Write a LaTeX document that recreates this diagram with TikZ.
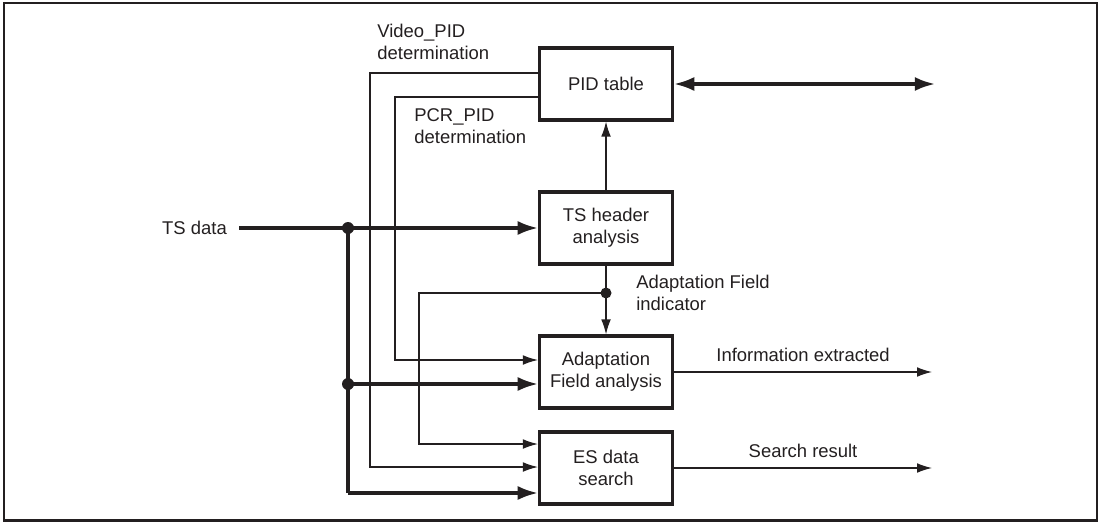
\documentclass[tikz,border=0pt]{standalone}
\usepackage{fontspec}
\setmainfont{Liberation Sans}
\usetikzlibrary{arrows.meta,positioning}
\definecolor{ink}{HTML}{231F20}

\begin{document}
\begin{tikzpicture}[x=1cm,y=1cm,font=\fontsize{10.5}{12.5}\selectfont,
  every node/.style={text=ink},
  blk/.style={draw=ink,line width=1.8pt,minimum width=2.66cm,minimum height=1.44cm,align=center,inner sep=0pt},
  wire/.style={draw=ink,line width=0.7pt},
  wirearr/.style={wire,-{Latex[length=8.5pt,width=5.5pt]}},
  bus/.style={draw=ink,line width=1.8pt},
  busarr/.style={bus,-{Latex[length=11.5pt,width=8pt]}},
  lbl/.style={align=left,anchor=west,inner sep=0pt}]
 \useasboundingbox (0,0) rectangle (22,10.44);
 \draw[ink,line width=1.2pt] (0.08,0.03) rectangle (21.94,10.38);

 \node[blk] (pid) at (12.12,8.76) {PID table};
 \node[blk] (tsh) at (12.12,5.88) {TS header\\analysis};
 \node[blk] (afa) at (12.12,3.00) {Adaptation\\Field analysis};
 \node[blk] (esd) at (12.12,1.08) {ES data\\search};
 \node[inner sep=0pt] (tsin) at (3.89,5.88) {TS data};

 \node[lbl] (vidlbl) at (7.54,9.60) {Video\_PID\\determination};
 \node[lbl] (pcrlbl) at (8.28,7.92) {PCR\_PID\\determination};
 \node[lbl] (aflbl) at (12.72,4.58) {Adaptation Field\\indicator};

 % branch points and free ends
 \coordinate (j1) at (6.96,5.88);
 \coordinate (j2) at (6.96,2.76);
 \coordinate (j3) at (6.96,0.58);
 \coordinate (vid) at (7.40,1.10);
 \coordinate (pcr) at (7.90,3.24);
 \coordinate (afi) at (12.12,4.58);
 \coordinate (afc) at (8.38,1.56);
 \coordinate (outA) at (18.64,3.00);
 \coordinate (outB) at (18.64,1.08);
 \coordinate (outC) at (18.70,8.76);

 % TS data bus
 \draw[busarr] ([xshift=2.4mm]tsin.east) -- (tsh.west);
 \draw[bus] (j1) -- (j3);
 \draw[busarr] (j2) -- (j2 -| afa.west);
 \draw[busarr] (j3) -- (j3 -| esd.west);
 \fill[ink] (j1) circle (0.12);
 \fill[ink] (j2) circle (0.12);

 % PID feedback
 \draw[wirearr] ([yshift=2.2mm]pid.west) -| (vid) -- (vid -| esd.west);
 \draw[wirearr] ([yshift=-2.6mm]pid.west) -| (pcr) -- (pcr -| afa.west);
 \draw[wirearr] (tsh) -- (pid);
 \draw[bus,{Latex[length=11.5pt,width=8pt]}-{Latex[length=11.5pt,width=8pt]}] (pid.east) -- (outC);

 % adaptation field indicator
 \draw[wire] (tsh.south) -- (afi);
 \draw[wirearr] (afi) -- (afa.north);
 \draw[wirearr] (afi) -| (afc) -- (afc -| esd.west);
 \fill[ink] (afi) circle (0.11);

 % outputs
 \draw[wirearr] (afa.east) -- (outA) node[midway,above=2mm,inner sep=0pt] {Information extracted};
 \draw[wirearr] (esd.east) -- (outB) node[midway,above=2mm,inner sep=0pt] {Search result};
\end{tikzpicture}
\end{document}
